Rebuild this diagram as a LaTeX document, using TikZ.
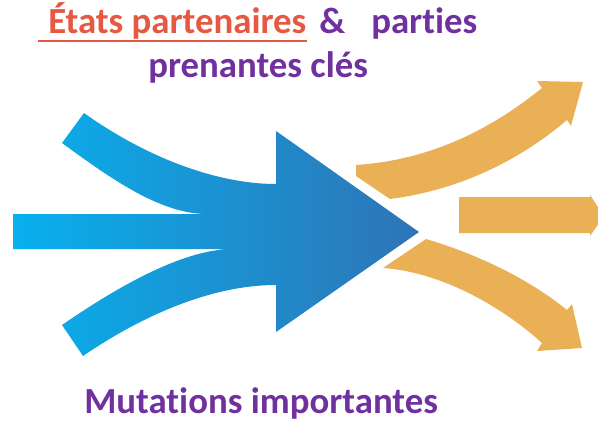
\documentclass[tikz,border=0pt]{standalone}
\usepackage{fontspec}
\setmainfont[Ligatures=NoCommon]{Carlito}
\usetikzlibrary{calc}

\definecolor{flowcyan}{RGB}{8,176,238}
\definecolor{flowblue}{RGB}{46,116,181}
\definecolor{flowgold}{RGB}{234,176,86}
\definecolor{titlered}{RGB}{230,88,66}
\definecolor{titlepurple}{RGB}{112,48,160}

\begin{document}
\begin{tikzpicture}[x=0.75pt,y=-0.75pt,
  bigflow/.style={left color=flowcyan,right color=flowblue,draw=none},
  outflow/.style={fill=flowgold,draw=none},
  label/.style={inner sep=0pt,anchor=base west,font=\fontsize{27.6}{33}\selectfont\bfseries}]
\useasboundingbox (0,0) rectangle (598,422);
\clip (0,0) rectangle (598,422);

% converging blue arrow
\path[bigflow] (84,113) .. controls (150,160) and (220,184) .. (276,184)
  -- (276,131) -- (419,232) -- (276,332) -- (276,285)
  .. controls (210,285) and (140,317) .. (83,356)
  -- (62,325) .. controls (110,292) and (180,249) .. (233,249)
  -- (13,249) -- (13,214) -- (207,214)
  .. controls (160,214) and (110,178) .. (62,143) -- cycle;

% diverging arrows
\path[outflow] (356,165) -- (356,176) -- (390,199)
  .. controls (460,190) and (520,160) .. (567,120)
  -- (571,126) -- (583,82) -- (537,81) -- (542,88)
  .. controls (490,130) and (430,160) .. (356,165);
\path[outflow] (459,197) -- (590,197) -- (590,195) -- (604,216)
  -- (590,236) -- (590,233) -- (459,233) -- cycle;
\path[outflow] (426,239) .. controls (480,255) and (530,280) .. (567,310)
  -- (572,304) -- (582,348) -- (537,351) -- (542,343)
  .. controls (500,305) and (440,272) .. (383,268) -- cycle;

\node[label,text=titlered] (etats) at (48,33) {États partenaires};
\draw[titlered,line width=2pt] ($(etats.base west)+(-10,8)$) -- ($(etats.base east)+(0,8)$);
\node[label,text=titlepurple] (et) at (319,33) {\&};
\node[label,text=titlepurple] (parties) at (371,33) {parties};
\node[label,text=titlepurple] (prenantes) at (148,77) {prenantes clés};
\node[label,text=titlepurple] (mutations) at (84,413) {Mutations importantes};
\end{tikzpicture}
\end{document}
